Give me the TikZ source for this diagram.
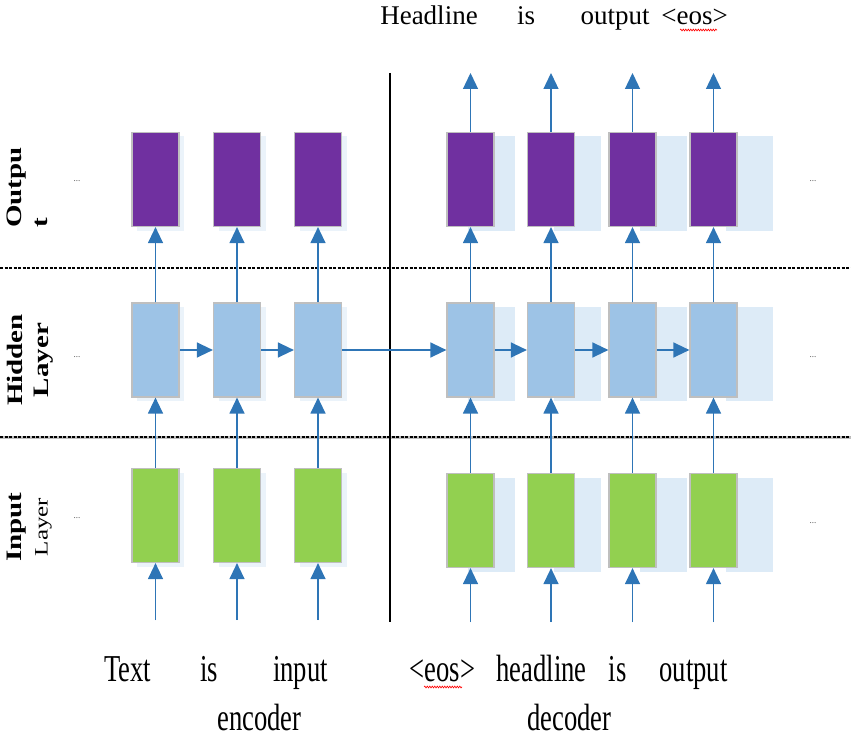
\documentclass[tikz,border=0pt]{standalone}
\usepackage{fontspec}
\setmainfont{Liberation Serif}
\newfontfamily\narrowfont{Liberation Serif}[FakeStretch=0.7]
\usepackage{tikz}
\definecolor{outcolor}{HTML}{7030A0}
\definecolor{hidcolor}{HTML}{9DC3E6}
\definecolor{incolor}{HTML}{92D050}
\definecolor{arrcolor}{HTML}{2E75B6}
\definecolor{shadecolor}{HTML}{DDEBF7}
\definecolor{boxcolor}{HTML}{BFBFBF}
\usetikzlibrary{arrows.meta}
\usetikzlibrary{decorations.pathmorphing}
\def\squash#1{\scalebox{1}[0.76]{#1}}
\tikzset{
	cell/.style={rectangle,draw=boxcolor,line width=1.2pt,inner sep=0pt,minimum width=47pt,minimum height=94pt},
	outcell/.style={cell,fill=outcolor},
	hidcell/.style={cell,fill=hidcolor},
	incell/.style={cell,fill=incolor},
	ghost/.style={rectangle,fill=shadecolor,inner sep=0pt,minimum width=47pt,minimum height=94pt},
	link/.style={-{Triangle[length=16pt,width=15pt]},line width=1.3pt,draw=arrcolor,fill=arrcolor},
	layersep/.style={line width=1.5pt,dash pattern=on 3pt off 1.5pt},
	word/.style={font=\fontsize{27}{32}\selectfont,inner sep=0pt,anchor=base},
	lword/.style={font=\narrowfont\fontsize{38}{44}\selectfont,inner sep=0pt,anchor=base},
	lbl/.style={rotate=90,inner sep=0pt,font=\bfseries\fontsize{29}{35}\selectfont},
	ellip/.style={font=\fontsize{9}{10}\selectfont,text=black!70,inner sep=0pt},
	spell/.style={red,line width=0.6pt,decorate,decoration={snake,amplitude=0.9pt,segment length=2.5pt}},
}

\begin{document}
\begin{tikzpicture}[x=1pt,y=-1pt]
\useasboundingbox (0,0) rectangle (851,738);
 \draw[layersep] (0,268) -- (851,268);
 \draw[line width=3pt,black!25] (0,437) -- (851,437);
 \draw[layersep] (0,437) -- (851,437);
 \draw[line width=1.2pt] (390,73) -- (390,622);

\foreach \x [count=\i] in {155.5,237,318} {
 \node (ego\i) at (\x+5,183.5)[ghost,fill=shadecolor!60]{};
 \node (egh\i) at (\x+5,354)[ghost,fill=shadecolor!60]{};
 \node (egi\i) at (\x+5,519.5)[ghost,fill=shadecolor!60]{};
 \node (eo\i) at (\x,179.5)[outcell]{};
 \node (eh\i) at (\x,350)[hidcell]{};
 \node (ei\i) at (\x,515.5)[incell]{};
 \coordinate (es\i) at (\x,620);
 \draw[link] (es\i) -- (ei\i);
 \draw[link] (ei\i) -- (eh\i);
 \draw[link] (eh\i) -- (eo\i);
}
\foreach \x/\s [count=\i] in {470.5/21,551/26,632.5/31,713.5/36} {
 \node (dgo\i) at (\x+\s,183.5)[ghost]{};
 \node (dgh\i) at (\x+\s,354)[ghost]{};
 \node (dgi\i) at (\x+\s,524.5)[ghost]{};
 \node (do\i) at (\x,179.5)[outcell]{};
 \node (dh\i) at (\x,350)[hidcell]{};
 \node (di\i) at (\x,520.5)[incell]{};
 \coordinate (ds\i) at (\x,622);
 \coordinate (dt\i) at (\x,73);
 \draw[link] (ds\i) -- (di\i);
 \draw[link] (di\i) -- (dh\i);
 \draw[link] (dh\i) -- (do\i);
 \draw[link] (do\i) -- (dt\i);
}
 \draw[link] (eh1) -- (eh2);
 \draw[link] (eh2) -- (eh3);
 \draw[link] (eh3) -- (dh1);
 \draw[link] (dh1) -- (dh2);
 \draw[link] (dh2) -- (dh3);
 \draw[link] (dh3) -- (dh4);

\foreach \x/\y [count=\i] in {77/181,77/357,77/518,813/181,813/357,813/523}
 \node (dot\i) at (\x,\y)[ellip]{...};

\node (lout) at (29,228)[lbl,anchor=west]{\squash{\begin{tabular}{@{}l@{}}Outpu\\t\end{tabular}}};
\node (lhid) at (30,360)[lbl]{\squash{\begin{tabular}{@{}c@{}}Hidden\\Layer\end{tabular}}};
\node (lin) at (29,527)[lbl]{\squash{\begin{tabular}{@{}c@{}}Input\\{\mdseries\fontsize{25}{30}\selectfont Layer}\end{tabular}}};

\node (t1) at (429,25)[word]{Headline};
\node (t2) at (526,25)[word]{is};
\node (t3) at (615,25)[word]{output};
\node (t4) at (694.5,25)[word]{<eos>};
 \draw[spell] (680,30) -- (717,30);

\node (w1) at (127.5,681)[lword]{Text};
\node (w2) at (209,681)[lword]{is};
\node (w3) at (300.5,681)[lword]{input};
\node (w4) at (442.5,681)[lword]{<eos>};
\node (w5) at (541.5,681)[lword]{headline};
\node (w6) at (617.5,681)[lword]{is};
\node (w7) at (693.5,681)[lword]{output};
\node (enc) at (259.5,730)[lword]{encoder};
\node (dec) at (569.5,730)[lword]{decoder};
 \draw[spell] (424,687) -- (462,687);
\end{tikzpicture}
\end{document}
